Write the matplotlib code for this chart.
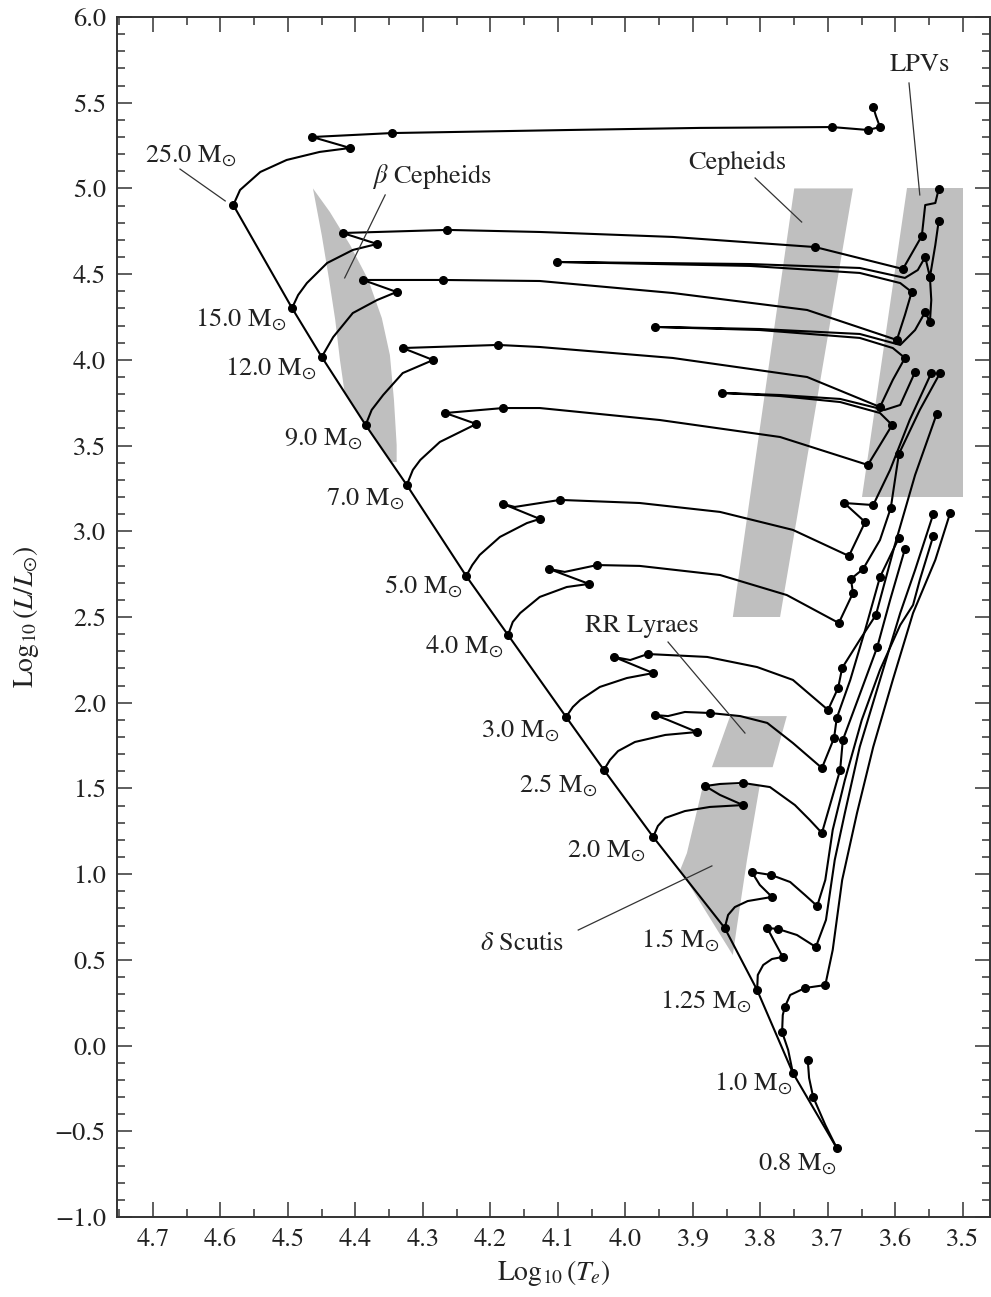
import matplotlib
matplotlib.use("Agg")
import matplotlib.pyplot as plt
from matplotlib.ticker import MultipleLocator, FuncFormatter
from matplotlib.patches import Polygon

plt.rcParams['font.family'] = ['STIXGeneral', 'DejaVu Serif']
plt.rcParams['mathtext.fontset'] = 'stix'

# ---------------- data ----------------
mass_labels = ['25.0', '15.0', '12.0', '9.0', '7.0', '5.0', '4.0', '3.0',
               '2.5', '2.0', '1.5', '1.25', '1.0', '0.8']

# zero-age main sequence (log Te, log L/Lsun)
zams_logT = [4.581, 4.494, 4.450, 4.385, 4.324, 4.236, 4.174, 4.088,
             4.032, 3.959, 3.853, 3.805, 3.752, 3.687]
zams_logL = [4.903, 4.302, 4.017, 3.620, 3.270, 2.739, 2.395, 1.917,
             1.608, 1.217, 0.686, 0.324, -0.160, -0.598]

# label anchor (right end, baseline)
label_logT = [4.576, 4.502, 4.457, 4.390, 4.327, 4.242, 4.181, 4.097,
              4.041, 3.971, 3.860, 3.813, 3.753, 3.687]
label_logL = [5.154, 4.198, 3.912, 3.503, 3.153, 2.640, 2.290, 1.800,
              1.479, 1.100, 0.575, 0.219, -0.259, -0.726]

t25_logT = [4.581, 4.571, 4.541, 4.502, 4.453, 4.408, 4.464, 4.346, 4.082, 3.890,
            3.694, 3.641, 3.623, 3.629, 3.633]
t25_logL = [4.903, 4.991, 5.096, 5.166, 5.213, 5.236, 5.300, 5.323, 5.341, 5.353,
            5.358, 5.341, 5.358, 5.423, 5.475]
t25_dots = [5, 6, 7, 10, 11, 12, 14]

t15_logT = [4.494, 4.485, 4.472, 4.442, 4.404, 4.368, 4.419, 4.264, 4.127, 3.930,
            3.719, 3.589, 3.561, 3.556, 3.541, 3.536]
t15_logL = [4.302, 4.378, 4.448, 4.565, 4.641, 4.676, 4.740, 4.758, 4.746, 4.717,
            4.658, 4.530, 4.723, 4.903, 4.915, 4.997]
t15_dots = [5, 6, 7, 10, 11, 12, 15]

t12_logT = [4.450, 4.433, 4.404, 4.368, 4.339, 4.389, 4.270, 4.127, 3.930, 3.731,
            3.598, 3.586, 3.576, 3.593, 3.653, 3.816, 4.102, 3.816, 3.653, 3.586,
            3.567, 3.556, 3.549, 3.541, 3.536]
t12_logL = [4.017, 4.133, 4.273, 4.349, 4.396, 4.466, 4.466, 4.460, 4.390, 4.291,
            4.116, 4.262, 4.396, 4.448, 4.507, 4.548, 4.571, 4.559, 4.536, 4.478,
            4.524, 4.600, 4.483, 4.670, 4.810]
t12_dots = [4, 5, 6, 10, 12, 16, 21, 22, 24]

t9_logT = [4.385, 4.376, 4.359, 4.330, 4.285, 4.330, 4.189, 4.127, 3.930, 3.731,
           3.623, 3.604, 3.586, 3.604, 3.653, 3.801, 3.956, 3.801, 3.653, 3.593,
           3.571, 3.556, 3.549, 3.547, 3.549]
t9_logL = [3.620, 3.708, 3.795, 3.923, 3.999, 4.069, 4.087, 4.075, 4.011, 3.900,
           3.725, 3.883, 4.011, 4.069, 4.128, 4.174, 4.192, 4.180, 4.151, 4.087,
           4.174, 4.279, 4.221, 4.349, 4.483]
t9_dots = [4, 5, 6, 10, 12, 16, 21, 22, 24]

t7_logT = [4.324, 4.315, 4.304, 4.275, 4.221, 4.267, 4.181, 4.127, 3.949, 3.771,
           3.641, 3.623, 3.605, 3.623, 3.682, 3.771, 3.857, 3.771, 3.682, 3.616,
           3.593, 3.571]
t7_logL = [3.270, 3.358, 3.416, 3.521, 3.626, 3.690, 3.719, 3.719, 3.649, 3.550,
           3.387, 3.503, 3.620, 3.690, 3.754, 3.789, 3.807, 3.795, 3.772, 3.708,
           3.737, 3.929]
t7_dots = [4, 5, 6, 10, 12, 16, 21]

t5_logT = [4.236, 4.227, 4.216, 4.186, 4.146, 4.127, 4.181, 4.164, 4.097, 3.979,
           3.860, 3.752, 3.669, 3.645, 3.676, 3.633, 3.608, 3.579, 3.547]
t5_logL = [2.739, 2.803, 2.862, 2.967, 3.048, 3.072, 3.159, 3.142, 3.183, 3.165,
           3.113, 3.008, 2.856, 3.054, 3.165, 3.153, 3.358, 3.649, 3.923]
t5_dots = [5, 6, 8, 12, 13, 14, 15, 18]

t4_logT = [4.174, 4.167, 4.156, 4.127, 4.087, 4.054, 4.113, 4.090, 4.042, 3.979,
           3.860, 3.761, 3.684, 3.663, 3.666, 3.648, 3.623, 3.607, 3.595, 3.564,
           3.534]
t4_logL = [2.395, 2.471, 2.523, 2.617, 2.675, 2.693, 2.780, 2.763, 2.803, 2.798,
           2.745, 2.628, 2.465, 2.640, 2.722, 2.780, 2.949, 3.136, 3.451, 3.708,
           3.923]
t4_dots = [5, 6, 8, 12, 13, 14, 15, 17, 18, 20]

t3_logT = [4.088, 4.078, 4.067, 4.038, 3.998, 3.959, 4.017, 3.993, 3.967, 3.879,
           3.805, 3.752, 3.700, 3.685, 3.679, 3.653, 3.629, 3.601, 3.571, 3.539]
t3_logL = [1.917, 1.975, 2.016, 2.092, 2.144, 2.173, 2.267, 2.249, 2.284, 2.267,
           2.208, 2.133, 1.958, 2.086, 2.203, 2.366, 2.512, 2.920, 3.328, 3.684]
t3_dots = [5, 6, 8, 12, 13, 14, 16, 19]

t25b_logT = [4.032, 4.023, 4.011, 3.986, 3.941, 3.894, 3.937, 3.956, 3.937, 3.912,
             3.875, 3.830, 3.790, 3.752, 3.709, 3.691, 3.687, 3.667, 3.645, 3.623,
             3.595]
t25b_logL = [1.608, 1.666, 1.718, 1.771, 1.812, 1.829, 1.899, 1.928, 1.922, 1.946,
             1.940, 1.922, 1.882, 1.765, 1.619, 1.794, 1.911, 2.133, 2.424, 2.733,
             2.961]
t25b_dots = [5, 7, 10, 14, 15, 16, 19, 20]

t20_logT = [3.959, 3.952, 3.941, 3.912, 3.875, 3.826, 3.860, 3.882, 3.860, 3.826,
            3.786, 3.749, 3.727, 3.709, 3.682, 3.678, 3.656, 3.627, 3.608, 3.586]
t20_logL = [1.217, 1.281, 1.328, 1.368, 1.392, 1.403, 1.462, 1.514, 1.526, 1.532,
            1.508, 1.403, 1.316, 1.240, 1.608, 1.783, 2.016, 2.325, 2.599, 2.897]
t20_dots = [5, 7, 9, 13, 14, 15, 17, 19]

t15b_logT = [3.853, 3.848, 3.838, 3.819, 3.783, 3.801, 3.813, 3.784, 3.756, 3.734,
             3.716, 3.704, 3.693, 3.675, 3.650, 3.623, 3.593, 3.574, 3.564, 3.544]
t15b_logL = [0.686, 0.762, 0.808, 0.843, 0.867, 0.937, 1.013, 0.995, 0.954, 0.878,
             0.814, 0.966, 1.258, 1.549, 1.899, 2.191, 2.453, 2.570, 2.716, 2.973]
t15b_dots = [4, 6, 7, 10, 19]

t125_logT = [3.805, 3.804, 3.796, 3.783, 3.767, 3.779, 3.790, 3.774, 3.746, 3.718,
             3.703, 3.690, 3.675, 3.653, 3.623, 3.593, 3.571, 3.544]
t125_logL = [0.324, 0.412, 0.470, 0.505, 0.517, 0.604, 0.686, 0.680, 0.645, 0.575,
             0.733, 1.083, 1.357, 1.742, 2.133, 2.523, 2.774, 3.101]
t125_dots = [4, 6, 7, 9, 17]

t10_logT = [3.752, 3.759, 3.768, 3.767, 3.764, 3.756, 3.734, 3.704, 3.693, 3.679,
            3.657, 3.633, 3.604, 3.574, 3.541, 3.519]
t10_logL = [-0.160, -0.026, 0.079, 0.178, 0.225, 0.295, 0.336, 0.353, 0.558, 0.966,
            1.357, 1.742, 2.133, 2.523, 2.833, 3.107]
t10_dots = [2, 4, 6, 7, 15]

t08_logT = [3.687, 3.704, 3.722, 3.728, 3.730]
t08_logL = [-0.598, -0.463, -0.300, -0.189, -0.084]
t08_dots = [2, 4]

# instability strips (log Te, log L)
betacep_logT = [4.463, 4.438, 4.408, 4.381, 4.361, 4.349, 4.343, 4.339, 4.339,
                4.347, 4.416, 4.423, 4.430, 4.439, 4.450]
betacep_logL = [5.000, 4.863, 4.670, 4.466, 4.244, 4.028, 3.766, 3.503, 3.404,
                3.404, 3.807, 3.999, 4.233, 4.466, 4.728]
cepheid_logT = [3.750, 3.663, 3.771, 3.841]
cepheid_logL = [5.0, 5.0, 2.5, 2.5]
lpv_logT = [3.583, 3.500, 3.500, 3.650]
lpv_logL = [5.0, 5.0, 3.2, 3.2]
rrlyr_logT = [3.845, 3.761, 3.782, 3.872]
rrlyr_logL = [1.922, 1.922, 1.624, 1.624]
dscuti_logT = [3.885, 3.801, 3.820, 3.835, 3.841, 3.919, 3.909]
dscuti_logL = [1.520, 1.520, 1.083, 0.692, 0.528, 1.024, 1.123]

# strip labels: text, anchor, pointer start/end
strip_names = [r'$\beta$ Cepheids', 'Cepheids', 'LPVs', 'RR Lyraes', r'$\delta$ Scutis']
strip_text_logT = [4.376, 3.907, 3.608, 4.060, 4.216]
strip_text_logL = [5.032, 5.113, 5.685, 2.413, 0.558]
pointer_start_logT = [4.356, 3.808, 3.580, 3.937, 4.070]
pointer_start_logL = [4.962, 5.061, 5.615, 2.354, 0.674]
pointer_end_logT = [4.416, 3.739, 3.564, 3.823, 3.872]
pointer_end_logL = [4.478, 4.804, 4.962, 1.823, 1.048]

# 25 Msun label pointer
p25_logT = [4.660, 4.593]
p25_logL = [5.113, 4.927]

# ---------------- plot ----------------
fig = plt.figure(figsize=(9.91, 12.97), dpi=100)
ax = fig.add_axes([117 / 991, 80 / 1297, 873 / 991, 1200 / 1297])

gray = '#bfbfbf'
for px, py in [(betacep_logT, betacep_logL), (cepheid_logT, cepheid_logL),
               (lpv_logT, lpv_logL), (rrlyr_logT, rrlyr_logL),
               (dscuti_logT, dscuti_logL)]:
    ax.add_patch(Polygon(list(zip(px, py)), closed=True, facecolor=gray,
                         edgecolor='none', zorder=1))

lw = 1.5
ms = 5.5
tracks = [(t25_logT, t25_logL, t25_dots), (t15_logT, t15_logL, t15_dots),
          (t12_logT, t12_logL, t12_dots), (t9_logT, t9_logL, t9_dots),
          (t7_logT, t7_logL, t7_dots), (t5_logT, t5_logL, t5_dots),
          (t4_logT, t4_logL, t4_dots), (t3_logT, t3_logL, t3_dots),
          (t25b_logT, t25b_logL, t25b_dots), (t20_logT, t20_logL, t20_dots),
          (t15b_logT, t15b_logL, t15b_dots), (t125_logT, t125_logL, t125_dots),
          (t10_logT, t10_logL, t10_dots), (t08_logT, t08_logL, t08_dots)]
for tx, ty, td in tracks:
    ax.plot(tx, ty, color='black', lw=lw, zorder=3, solid_joinstyle='round')
    ax.plot([tx[i] for i in td], [ty[i] for i in td], 'o', color='black',
            ms=ms, zorder=4)

ax.plot(zams_logT, zams_logL, color='black', lw=lw, zorder=3)
ax.plot(zams_logT, zams_logL, 'o', color='black', ms=ms, zorder=4)

fs_lab = 19
for m, lx, ly in zip(mass_labels, label_logT, label_logL):
    ax.text(lx, ly, m + r' M$_{\odot}$', ha='right', va='baseline',
            fontsize=fs_lab, color='#222222', zorder=5)

ax.plot(p25_logT, p25_logL, color='#333333', lw=0.9, zorder=4)

for name, tx, ty, sx, sy, ex, ey in zip(strip_names, strip_text_logT, strip_text_logL,
                                        pointer_start_logT, pointer_start_logL,
                                        pointer_end_logT, pointer_end_logL):
    ax.text(tx, ty, name, ha='left', va='baseline', fontsize=fs_lab,
            color='#222222', zorder=5)
    ax.plot([sx, ex], [sy, ey], color='#333333', lw=0.9, zorder=4)

ax.set_xlim(4.7533, 3.46)
ax.set_ylim(-1.0, 6.0)

ax.xaxis.set_major_locator(MultipleLocator(0.1))
ax.xaxis.set_minor_locator(MultipleLocator(0.05))
ax.yaxis.set_major_locator(MultipleLocator(0.5))
ax.yaxis.set_minor_locator(MultipleLocator(0.1))
fmt = FuncFormatter(lambda v, p: ('%.1f' % v).replace('-', '\u2212'))
ax.xaxis.set_major_formatter(fmt)
ax.yaxis.set_major_formatter(fmt)

ax.tick_params(which='both', direction='in', top=True, right=True,
               colors='#333333', labelcolor='#222222')
ax.tick_params(which='major', length=11, width=1.1, labelsize=19, pad=8)
ax.tick_params(which='minor', length=6, width=1.1)
for s in ax.spines.values():
    s.set_linewidth(1.4)
    s.set_color('#333333')

ax.set_xlabel(r'Log$_{10}\,(T_e)$', fontsize=20, labelpad=4, color='#222222')
ax.set_ylabel(r'Log$_{10}\,(L/L_{\odot})$', fontsize=20, labelpad=10, color='#222222')

fig.savefig('out.png', dpi=100)
